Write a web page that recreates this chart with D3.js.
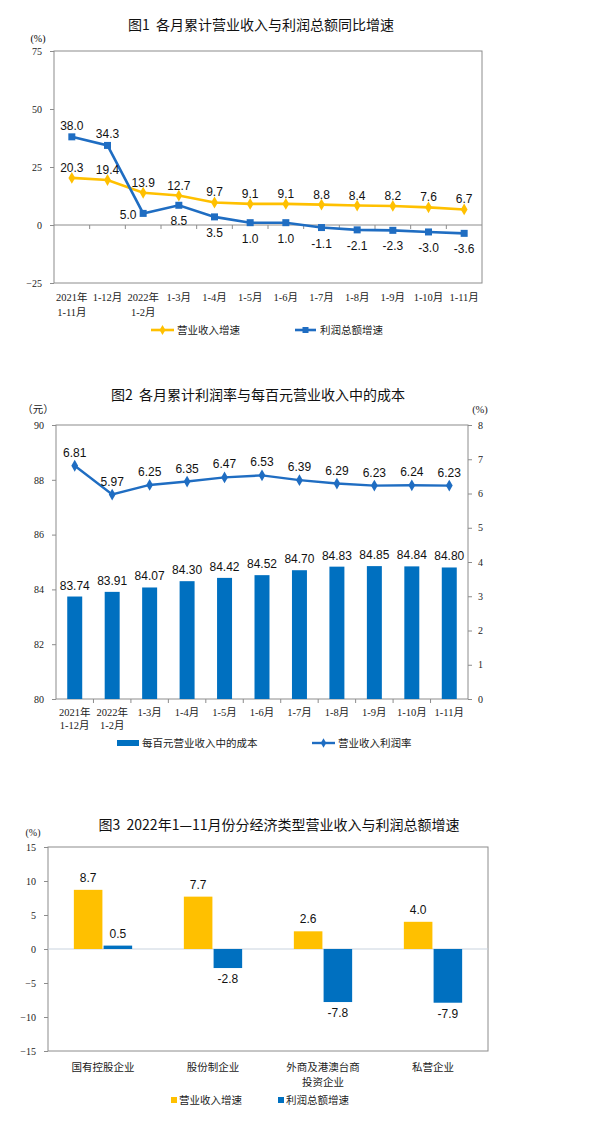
<!DOCTYPE html>
<html>
<head>
<meta charset="utf-8">
<script src="https://cdn.jsdelivr.net/npm/d3@7"></script>
<style>
  body { margin: 0; background: #fff; }
  svg { display: block; }
  .cn { font-family: "Noto Sans CJK SC", sans-serif; }
  .num { font-family: "Liberation Sans", Arial, sans-serif; }
  .ax { font-family: "Liberation Serif", "Noto Sans CJK SC", serif; }
</style>
</head>
<body>
<svg width="592" height="1129"></svg>
<script>
// ---- figure 1 data
const months1 = ["2021年|1-11月", "1-12月", "2022年|1-2月", "1-3月", "1-4月", "1-5月", "1-6月", "1-7月", "1-8月", "1-9月", "1-10月", "1-11月"];
const revenueGrowth1 = [20.3, 19.4, 13.9, 12.7, 9.7, 9.1, 9.1, 8.8, 8.4, 8.2, 7.6, 6.7];
const profitGrowth1 = [38.0, 34.3, 5.0, 8.5, 3.5, 1.0, 1.0, -1.1, -2.1, -2.3, -3.0, -3.6];
const ticks1 = [-25, 0, 25, 50, 75];

// ---- figure 2 data
const months2 = ["2021年|1-12月", "2022年|1-2月", "1-3月", "1-4月", "1-5月", "1-6月", "1-7月", "1-8月", "1-9月", "1-10月", "1-11月"];
const costPer100 = [83.74, 83.91, 84.07, 84.30, 84.42, 84.52, 84.70, 84.83, 84.85, 84.84, 84.80];
const profitMargin = [6.81, 5.97, 6.25, 6.35, 6.47, 6.53, 6.39, 6.29, 6.23, 6.24, 6.23];
const ticks2L = [80, 82, 84, 86, 88, 90];
const ticks2R = [0, 1, 2, 3, 4, 5, 6, 7, 8];

// ---- figure 3 data
const types3 = ["国有控股企业", "股份制企业", "外商及港澳台商|投资企业", "私营企业"];
const revenueGrowth3 = [8.7, 7.7, 2.6, 4.0];
const profitGrowth3 = [0.5, -2.8, -7.8, -7.9];
const ticks3 = [-15, -10, -5, 0, 5, 10, 15];

const YELLOW = "#ffc000", BLUE = "#1f6dc2", BAR = "#0070c0", FRAME = "#8c8c8c";

const svg = d3.select("svg");
svg.append("rect").attr("width", 592).attr("height", 1129).attr("fill", "#fff");

function title(txt, x, y) {
  svg.append("text").attr("class", "cn").attr("x", x).attr("y", y)
    .attr("text-anchor", "middle").attr("font-size", 14).attr("fill", "#111")
    .attr("xml:space", "preserve").style("white-space", "pre").text(txt);
}

function twoLine(g, label, x, y, lh, cls, size) {
  const t = g.append("text").attr("class", cls).attr("font-size", size)
    .attr("text-anchor", "middle").attr("fill", "#222");
  label.split("|").forEach((s, k) => {
    t.append("tspan").attr("x", x).attr("y", y + k * lh).text(s);
  });
}

function styleAxis(g) {
  g.select(".domain").remove();
  g.selectAll("line").attr("stroke", FRAME);
  g.selectAll("text").attr("class", "ax").attr("font-size", 10).attr("fill", "#222");
}

// ================= figure 1 =================
(function () {
  const L = 54, R = 482, T = 51, B = 283;
  title("图1  各月累计营业收入与利润总额同比增速", 261, 30);
  const x = d3.scaleBand().domain(d3.range(months1.length)).range([L, R]);
  const y = d3.scaleLinear().domain([-25, 75]).range([B, T]);
  const cx = i => x(i) + x.bandwidth() / 2;
  const g = svg.append("g");

  g.append("rect").attr("x", L).attr("y", T).attr("width", R - L).attr("height", B - T)
    .attr("fill", "none").attr("stroke", FRAME);
  g.append("g").attr("transform", `translate(${L},0)`)
    .call(d3.axisLeft(y).tickValues(ticks1).tickSize(4).tickPadding(8))
    .call(styleAxis);
  g.append("text").attr("class", "ax").attr("x", 38).attr("y", 42).attr("font-size", 10)
    .attr("text-anchor", "middle").text("(%)");

  // zero line with category ticks
  g.append("line").attr("x1", L).attr("x2", R).attr("y1", y(0)).attr("y2", y(0)).attr("stroke", FRAME);
  g.selectAll(".zt").data(d3.range(1, months1.length)).join("line")
    .attr("x1", i => x(i)).attr("x2", i => x(i)).attr("y1", y(0)).attr("y2", y(0) + 4).attr("stroke", FRAME);

  const line = d3.line().x((d, i) => cx(i)).y(d => y(d));
  g.append("path").datum(revenueGrowth1).attr("d", line).attr("fill", "none")
    .attr("stroke", YELLOW).attr("stroke-width", 2.6);
  g.append("path").datum(profitGrowth1).attr("d", line).attr("fill", "none")
    .attr("stroke", BLUE).attr("stroke-width", 2.6);

  g.selectAll(".dm").data(revenueGrowth1).join("path")
    .attr("transform", (d, i) => `translate(${cx(i)},${y(d)})`)
    .attr("d", d3.symbol(d3.symbolDiamond, 40)).attr("fill", YELLOW);
  g.selectAll(".sq").data(profitGrowth1).join("rect")
    .attr("x", (d, i) => cx(i) - 3.5).attr("y", d => y(d) - 3.5)
    .attr("width", 7).attr("height", 7).attr("fill", BLUE);

  g.selectAll(".ly").data(revenueGrowth1).join("text").attr("class", "num")
    .attr("font-size", 12).attr("text-anchor", "middle").attr("fill", "#111")
    .attr("x", (d, i) => cx(i)).attr("y", d => y(d) - 6).text(d => d.toFixed(1));
  g.selectAll(".lb").data(profitGrowth1).join("text").attr("class", "num")
    .attr("font-size", 12).attr("text-anchor", "middle").attr("fill", "#111")
    .attr("x", (d, i) => i === 2 ? cx(i) - 15 : cx(i))
    .attr("y", (d, i) => i < 2 ? y(d) - 7 : (i === 2 ? y(d) + 6 : y(d) + 20))
    .text(d => d.toFixed(1));

  months1.forEach((m, i) => twoLine(g, m, cx(i), 301, 15, "ax", 10.5));

  // legend
  const lg = g.append("g");
  lg.append("line").attr("x1", 151).attr("x2", 174).attr("y1", 330).attr("y2", 330).attr("stroke", YELLOW).attr("stroke-width", 2.6);
  lg.append("path").attr("transform", "translate(162.5,330)").attr("d", d3.symbol(d3.symbolDiamond, 30)).attr("fill", YELLOW);
  lg.append("text").attr("class", "cn").attr("x", 177).attr("y", 334).attr("font-size", 10.5).attr("fill", "#222").text("营业收入增速");
  lg.append("line").attr("x1", 295).attr("x2", 316).attr("y1", 330).attr("y2", 330).attr("stroke", BLUE).attr("stroke-width", 2.6);
  lg.append("rect").attr("x", 302.5).attr("y", 327).attr("width", 6).attr("height", 6).attr("fill", BLUE);
  lg.append("text").attr("class", "cn").attr("x", 320).attr("y", 334).attr("font-size", 10.5).attr("fill", "#222").text("利润总额增速");
})();

// ================= figure 2 =================
(function () {
  const L = 56, R = 468, T = 425, B = 699;
  title("图2  各月累计利润率与每百元营业收入中的成本", 258, 400);
  const x = d3.scaleBand().domain(d3.range(months2.length)).range([L, R])
    .paddingInner(0.6).paddingOuter(0.3);
  const step = x.step();
  const cx = i => x(i) + x.bandwidth() / 2;
  const yL = d3.scaleLinear().domain([80, 90]).range([B, T]);
  const yR = d3.scaleLinear().domain([0, 8]).range([B, T]);
  const g = svg.append("g");

  g.append("rect").attr("x", L).attr("y", T).attr("width", R - L).attr("height", B - T)
    .attr("fill", "none").attr("stroke", FRAME);
  g.append("g").attr("transform", `translate(${L},0)`)
    .call(d3.axisLeft(yL).tickValues(ticks2L).tickSize(4).tickPadding(8))
    .call(styleAxis);
  g.append("g").attr("transform", `translate(${R},0)`)
    .call(d3.axisRight(yR).tickValues(ticks2R).tickSize(4).tickPadding(6))
    .call(styleAxis);
  g.append("text").attr("class", "cn").attr("x", 38).attr("y", 413).attr("font-size", 10.5)
    .attr("text-anchor", "middle").attr("fill", "#222").text("（元）");
  g.append("text").attr("class", "ax").attr("x", 480).attr("y", 413).attr("font-size", 10.5)
    .attr("text-anchor", "middle").attr("fill", "#222").text("(%)");

  g.selectAll(".bt").data(d3.range(1, months2.length)).join("line")
    .attr("x1", i => cx(i) - step / 2).attr("x2", i => cx(i) - step / 2)
    .attr("y1", B).attr("y2", B + 4).attr("stroke", FRAME);

  g.selectAll(".bar").data(costPer100).join("rect")
    .attr("x", (d, i) => x(i)).attr("width", x.bandwidth())
    .attr("y", d => yL(d)).attr("height", d => B - yL(d)).attr("fill", BAR);
  g.selectAll(".bl").data(costPer100).join("text").attr("class", "num")
    .attr("font-size", 12).attr("text-anchor", "middle").attr("fill", "#111")
    .attr("x", (d, i) => cx(i)).attr("y", d => yL(d) - 7).text(d => d.toFixed(2));

  const line = d3.line().x((d, i) => cx(i)).y(d => yR(d));
  g.append("path").datum(profitMargin).attr("d", line).attr("fill", "none")
    .attr("stroke", BLUE).attr("stroke-width", 2.4);
  g.selectAll(".dm").data(profitMargin).join("path")
    .attr("transform", (d, i) => `translate(${cx(i)},${yR(d)})`)
    .attr("d", d3.symbol(d3.symbolDiamond, 40)).attr("fill", BLUE);
  g.selectAll(".ll").data(profitMargin).join("text").attr("class", "num")
    .attr("font-size", 12).attr("text-anchor", "middle").attr("fill", "#111")
    .attr("x", (d, i) => cx(i)).attr("y", d => yR(d) - 9).text(d => d.toFixed(2));

  months2.forEach((m, i) => twoLine(g, m, cx(i), 716, 13, "ax", 10.5));

  const lg = g.append("g");
  lg.append("rect").attr("x", 117).attr("y", 740).attr("width", 22).attr("height", 6).attr("fill", BAR);
  lg.append("text").attr("class", "cn").attr("x", 142).attr("y", 747).attr("font-size", 10.5).attr("fill", "#222").text("每百元营业收入中的成本");
  lg.append("line").attr("x1", 312).attr("x2", 335).attr("y1", 743).attr("y2", 743).attr("stroke", BLUE).attr("stroke-width", 2.4);
  lg.append("path").attr("transform", "translate(323.5,743)").attr("d", d3.symbol(d3.symbolDiamond, 26)).attr("fill", BLUE);
  lg.append("text").attr("class", "cn").attr("x", 338).attr("y", 747).attr("font-size", 10.5).attr("fill", "#222").text("营业收入利润率");
})();

// ================= figure 3 =================
(function () {
  const L = 48, R = 488, T = 847, B = 1051;
  title("图3  2022年1—11月份分经济类型营业收入与利润总额增速", 279, 830);
  const x = d3.scaleBand().domain(d3.range(types3.length)).range([L, R])
    .paddingInner(0.47).paddingOuter(0.235);
  const xs = d3.scaleBand().domain(["rev", "profit"]).range([0, x.bandwidth()]).paddingInner(0.04);
  const y = d3.scaleLinear().domain([-15, 15]).range([B, T]);
  const g = svg.append("g");

  g.append("rect").attr("x", L).attr("y", T).attr("width", R - L).attr("height", B - T)
    .attr("fill", "none").attr("stroke", FRAME);
  g.append("g").attr("transform", `translate(${L},0)`)
    .call(d3.axisLeft(y).tickValues(ticks3).tickSize(4).tickPadding(8))
    .call(styleAxis);
  g.append("text").attr("class", "ax").attr("x", 33).attr("y", 836).attr("font-size", 10)
    .attr("text-anchor", "middle").attr("fill", "#222").text("(%)");
  g.append("line").attr("x1", L).attr("x2", R).attr("y1", y(0)).attr("y2", y(0)).attr("stroke", "#c9d3de");

  const series = [
    { key: "rev", values: revenueGrowth3, color: YELLOW },
    { key: "profit", values: profitGrowth3, color: BAR }
  ];
  series.forEach(s => {
    const bx = i => x(i) + xs(s.key);
    g.selectAll(".b" + s.key).data(s.values).join("rect")
      .attr("x", (d, i) => bx(i)).attr("width", xs.bandwidth())
      .attr("y", d => y(Math.max(0, d))).attr("height", d => Math.abs(y(d) - y(0)))
      .attr("fill", s.color);
    g.selectAll(".t" + s.key).data(s.values).join("text").attr("class", "num")
      .attr("font-size", 12).attr("text-anchor", "middle").attr("fill", "#111")
      .attr("x", (d, i) => bx(i) + xs.bandwidth() / 2)
      .attr("y", d => d >= 0 ? y(d) - 8 : y(d) + 15)
      .text(d => d.toFixed(1));
  });

  types3.forEach((t, i) => twoLine(g, t, x(i) + x.bandwidth() / 2, 1071, 15, "cn", 10.5));

  const lg = g.append("g");
  lg.append("rect").attr("x", 171).attr("y", 1097).attr("width", 6).attr("height", 6).attr("fill", YELLOW);
  lg.append("text").attr("class", "cn").attr("x", 179).attr("y", 1104).attr("font-size", 10.5).attr("fill", "#222").text("营业收入增速");
  lg.append("rect").attr("x", 278).attr("y", 1097).attr("width", 6).attr("height", 6).attr("fill", BAR);
  lg.append("text").attr("class", "cn").attr("x", 286).attr("y", 1104).attr("font-size", 10.5).attr("fill", "#222").text("利润总额增速");
})();
</script>
</body>
</html>
